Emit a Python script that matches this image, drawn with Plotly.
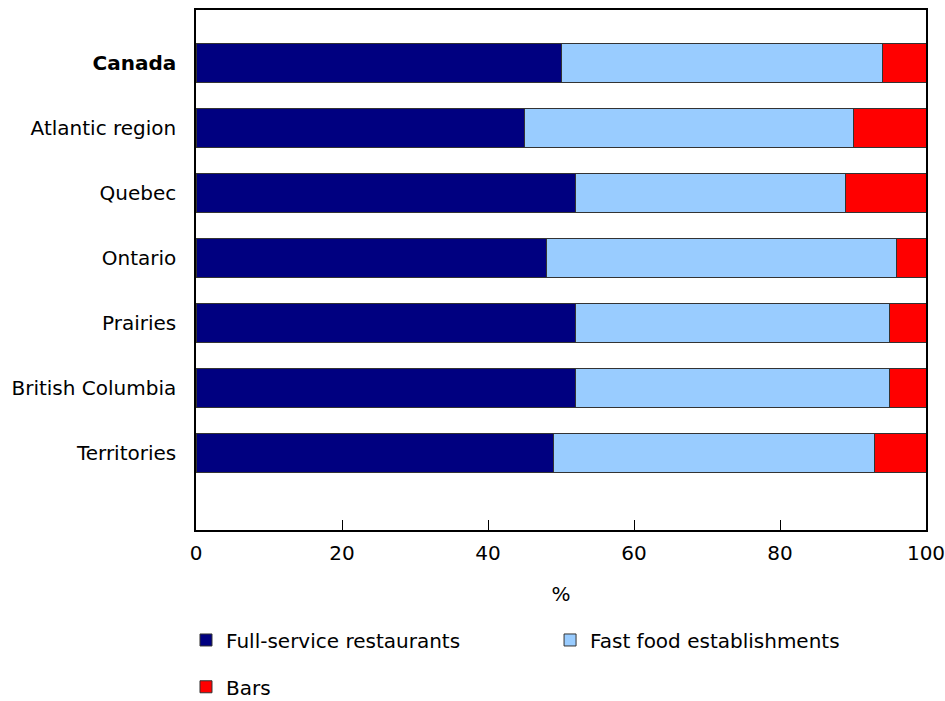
import plotly.graph_objects as go

regions = ["Canada", "Atlantic region", "Quebec", "Ontario", "Prairies",
           "British Columbia", "Territories"]
tick_labels = ["<b>Canada</b>", "Atlantic region", "Quebec", "Ontario", "Prairies",
               "British Columbia", "Territories"]
full_service = [50, 45, 52, 48, 52, 52, 49]
fast_food = [44, 45, 37, 48, 43, 43, 44]
bars = [6, 10, 11, 4, 5, 5, 7]
x_ticks = [0, 20, 40, 60, 80, 100]

FONT = "DejaVu Sans, Verdana, sans-serif"
FS = 20
line = dict(color="#333333", width=1)

fig = go.Figure()
fig.add_trace(go.Bar(y=regions, x=full_service, orientation="h", name="Full-service restaurants",
                     marker=dict(color="#000080", line=line), width=0.6, legend="legend"))
fig.add_trace(go.Bar(y=regions, x=fast_food, orientation="h", name="Fast food establishments",
                     marker=dict(color="#99CCFF", line=line), width=0.6, legend="legend2"))
fig.add_trace(go.Bar(y=regions, x=bars, orientation="h", name="Bars",
                     marker=dict(color="#FF0000", line=line), width=0.6, legend="legend3"))

leg_common = dict(orientation="h", yanchor="middle", xanchor="left",
                  font=dict(family=FONT, size=FS, color="black"), bgcolor="rgba(0,0,0,0)")

fig.update_layout(
    barmode="stack",
    width=945, height=701,
    margin=dict(l=196, r=19, t=10, b=171, autoexpand=False),
    paper_bgcolor="white", plot_bgcolor="white",
    font=dict(family=FONT, size=FS, color="black"),
    showlegend=True,
    legend=dict(x=-0.0137, y=-0.2115, **leg_common),
    legend2=dict(x=0.485, y=-0.2115, **leg_common),
    legend3=dict(x=-0.0137, y=-0.3015, **leg_common),
    xaxis=dict(range=[0, 100], tickvals=x_ticks, ticks="inside", ticklen=10, tickcolor="black",
               showline=True, linecolor="black", linewidth=1.5, mirror=True, showgrid=False,
               zeroline=False, ticklabelstandoff=4, ticklabeloverflow="allow",
               title=dict(text="%", standoff=23, font=dict(family=FONT, size=FS))),
    yaxis=dict(categoryorder="array", categoryarray=regions, tickvals=regions, ticktext=tick_labels,
               range=[7.19, -0.81], showline=True, linecolor="black", linewidth=1.5, mirror=True,
               showgrid=False, ticks="", ticklabelstandoff=14),
)

fig.write_html("out.html", config={"displayModeBar": False},
               post_script="document.body.style.margin='0';document.body.style.overflow='hidden';")
